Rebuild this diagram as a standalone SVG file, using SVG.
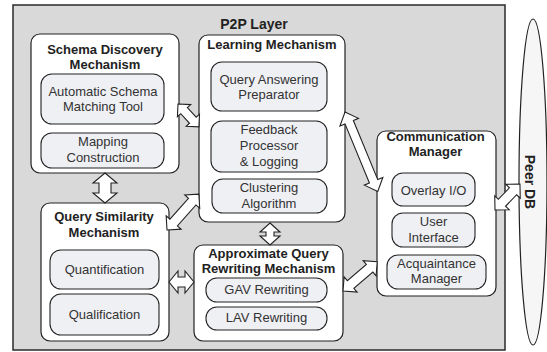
<svg xmlns="http://www.w3.org/2000/svg" width="547" height="352" viewBox="0 0 547 352">
  <style>
    .layer { fill: #d9d9d9; stroke: #2a2a2a; stroke-width: 1.5; }
    .box { fill: #ffffff; stroke: #222222; stroke-width: 1.2; }
    .sub { fill: #eff0f3; stroke: #222222; stroke-width: 1.1; }
    .peer { fill: #f6f6f6; stroke: #222222; stroke-width: 1.2; }
    .title { font-family: "Liberation Sans", Arial, sans-serif; font-size: 13px; font-weight: bold; fill: #222222; text-anchor: middle; }
    .label { font-family: "Liberation Sans", Arial, sans-serif; font-size: 13px; fill: #333333; text-anchor: middle; }
    .arr { fill: #ffffff; stroke: #222222; stroke-width: 1.1; stroke-linejoin: miter; }
  </style>

  <!-- P2P layer background -->
  <g id="p2p-layer">
    <rect class="layer" x="13" y="5" width="492" height="345"/>
    <text class="title" x="254" y="29" style="font-size:14px">P2P Layer</text>
  </g>

  <!-- Peer database -->
  <g id="peer-db">
    <ellipse class="peer" cx="533" cy="182" rx="14" ry="163"/>
    <text class="title" transform="translate(530,182) rotate(90)" x="0" y="5" style="font-size:14px">Peer DB</text>
  </g>

  <g id="schema-discovery">
    <rect class="box" x="31" y="34" width="148" height="139" rx="9"/>
    <text class="title" x="105" y="54">Schema Discovery</text>
    <text class="title" x="105" y="69">Mechanism</text>
    <rect class="sub" x="41" y="74" width="123" height="50" rx="11"/>
    <text class="label" x="103" y="96">Automatic Schema</text>
    <text class="label" x="103" y="111">Matching Tool</text>
    <rect class="sub" x="41" y="133" width="123" height="35" rx="11"/>
    <text class="label" x="103" y="146">Mapping</text>
    <text class="label" x="103" y="162">Construction</text>
  </g>

  <g id="learning-mechanism">
    <rect class="box" x="199" y="35" width="146" height="187" rx="9"/>
    <text class="title" x="272" y="49">Learning Mechanism</text>
    <rect class="sub" x="211" y="62" width="116" height="49" rx="11"/>
    <text class="label" x="269" y="84">Query Answering</text>
    <text class="label" x="269" y="99">Preparator</text>
    <rect class="sub" x="211" y="121" width="116" height="51" rx="11"/>
    <text class="label" x="269" y="134">Feedback</text>
    <text class="label" x="269" y="150">Processor</text>
    <text class="label" x="269" y="166">&amp; Logging</text>
    <rect class="sub" x="212" y="179" width="115" height="34" rx="11"/>
    <text class="label" x="269" y="192">Clustering</text>
    <text class="label" x="269" y="208">Algorithm</text>
  </g>

  <g id="query-similarity">
    <rect class="box" x="41" y="203" width="128" height="138" rx="9"/>
    <text class="title" x="104" y="221">Query Similarity</text>
    <text class="title" x="104" y="237">Mechanism</text>
    <rect class="sub" x="50" y="250" width="109" height="39" rx="11"/>
    <text class="label" x="104.5" y="274">Quantification</text>
    <rect class="sub" x="50" y="294" width="109" height="41" rx="11"/>
    <text class="label" x="104.5" y="319">Qualification</text>
  </g>

  <g id="approximate-rewriting">
    <rect class="box" x="194" y="245" width="149" height="96" rx="9"/>
    <text class="title" x="268.5" y="258">Approximate Query</text>
    <text class="title" x="268.5" y="273">Rewriting Mechanism</text>
    <rect class="sub" x="206" y="278" width="121" height="24" rx="11"/>
    <text class="label" x="266.5" y="294">GAV Rewriting</text>
    <rect class="sub" x="206" y="307" width="121" height="23" rx="11"/>
    <text class="label" x="266.5" y="322">LAV Rewriting</text>
  </g>

  <g id="communication-manager">
    <rect class="box" x="377" y="131" width="119" height="165" rx="9"/>
    <text class="title" x="435.5" y="141">Communication</text>
    <text class="title" x="435.5" y="156">Manager</text>
    <rect class="sub" x="392" y="173" width="83" height="33" rx="11"/>
    <text class="label" x="433.5" y="195">Overlay I/O</text>
    <rect class="sub" x="392" y="213" width="83" height="34" rx="11"/>
    <text class="label" x="433.5" y="226">User</text>
    <text class="label" x="433.5" y="242">Interface</text>
    <rect class="sub" x="387" y="255" width="99" height="34" rx="11"/>
    <text class="label" x="436.5" y="268">Acquaintance</text>
    <text class="label" x="436.5" y="283">Manager</text>
  </g>

  <!-- Double-headed block arrows between components -->
  <g id="connectors">
    <polygon class="arr" transform="translate(178,104) rotate(47.6)" points="0,0 9,-9 9,-4.5 22,-4.5 22,-9 31,0 22,9 22,4.5 9,4.5 9,9"/>
    <polygon class="arr" transform="translate(105,173) rotate(90)" points="0,0 10,-12 10,-6 20,-6 20,-12 30,0 20,12 20,6 10,6 10,12"/>
    <polygon class="arr" transform="translate(167,230) rotate(-48.4)" points="0,0 10,-10 10,-5 38,-5 38,-10 48,0 38,10 38,5 10,5 10,10"/>
    <polygon class="arr" transform="translate(270,223) rotate(90)" points="0,0 9,-10 9,-4 13,-4 13,-10 22,0 13,10 13,4 9,4 9,10"/>
    <polygon class="arr" transform="translate(169,282)" points="0,0 9,-11 9,-5 16,-5 16,-11 25,0 16,11 16,5 9,5 9,11"/>
    <polygon class="arr" transform="translate(343,291) rotate(-40.5)" points="0,0 10,-10 10,-5 35,-5 35,-10 45,0 35,10 35,5 10,5 10,10"/>
    <polygon class="arr" transform="translate(345,112) rotate(67.6)" points="0,0 11,-10 11,-4.5 75,-4.5 75,-10 86,0 75,10 75,4.5 11,4.5 11,10"/>
    <polygon class="arr" transform="translate(495,210) rotate(-46.1)" points="0,0 10,-10 10,-5 26,-5 26,-10 36,0 26,10 26,5 10,5 10,10"/>
  </g>
</svg>
